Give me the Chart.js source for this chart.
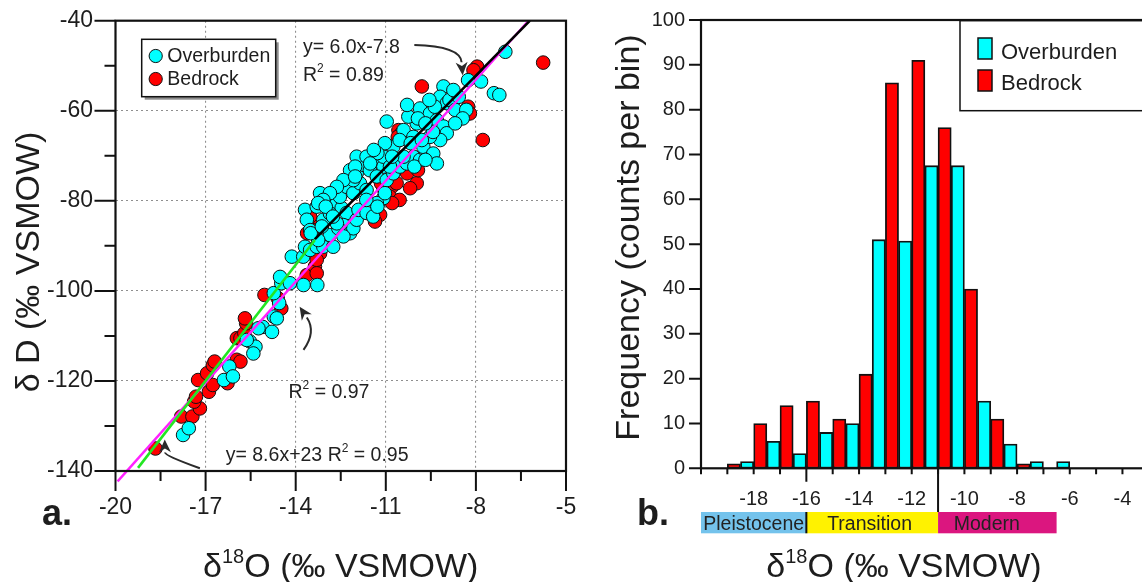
<!DOCTYPE html>
<html>
<head>
<meta charset="utf-8">
<script src="https://cdn.jsdelivr.net/npm/chart.js@4.4.1/dist/chart.umd.min.js"></script>
<style>
  html, body { margin: 0; padding: 0; background: #fff; overflow: hidden; }
  #wrap { position: relative; width: 1142px; height: 582px; overflow: hidden; background: #fff; }
  #left { position: absolute; left: 0; top: 0; }
  #right { position: absolute; left: 580px; top: 0; }
</style>
</head>
<body>
<div id="wrap">
  <canvas id="left" width="580" height="582"></canvas>
  <canvas id="right" width="610" height="582"></canvas>
</div>
<script>
const FONT = '"Liberation Sans", Arial, Helvetica, sans-serif';
const INK = '#1d1d1d';

// ---- panel a: deuterium vs oxygen-18 ----
const overburdenO = [
  -17.75, -17.56, -16.39, -16.21, -16.09, -15.53, -15.34, -15.41, -15.10, -14.79,
  -14.73, -14.55, -14.73, -14.48, -13.74, -13.28, -15.24, -15.63, -14.63, -14.52,
  -14.19, -14.13, -13.75, -13.69, -13.52, -13.30, -13.08, -12.75, -12.86, -13.25,
  -13.47, -13.69, -13.63, -13.19, -13.08, -12.97, -12.80, -12.63, -12.47, -12.30,
  -12.41, -12.58, -12.19, -12.08, -11.97, -11.91, -11.64, -11.42, -11.25, -11.08,
  -12.53, -12.30, -12.08, -11.86, -11.64, -11.97, -11.75, -11.53, -11.30, -11.08,
  -11.30, -10.97, -10.75, -10.53, -10.30, -10.08, -9.86, -9.64, -11.97, -11.64,
  -9.08, -9.19, -8.97, -9.86, -9.53, -9.30, -9.08, -8.97, -10.97, -10.41,
  -10.08, -9.97, -10.25, -9.75, -9.42, -9.19, -9.53, -9.30, -10.75, -11.08,
  -10.86, -10.41, -12.19, -12.08, -12.41, -12.63, -12.86, -13.08, -13.30, -13.52,
  -12.86, -12.63, -11.30, -12.41, -7.02, -7.83, -8.26, -7.40, -7.22, -8.88,
  -8.57, -8.75, -9.37, -8.69, -8.32, -8.44, -8.69, -9.43, -9.55, -9.93,
  -9.68, -10.29, -10.54, -10.17, -9.80, -10.05, -9.68, -11.03, -10.79, -11.28,
  -11.52, -12.02, -11.40, -12.02, -13.25, -13.00, -13.50, -13.13, -12.76, -11.65,
  -11.28, -11.03
];
const overburdenD = [
  -132.0, -130.5, -119.8, -116.8, -119.0, -111.2, -112.4, -113.9, -108.0, -109.1,
  -105.7, -102.7, -100.5, -98.3, -98.7, -98.7, -108.3, -110.9, -106.1, -96.9,
  -98.3, -92.4, -92.4, -90.2, -90.9, -90.2, -90.2, -90.2, -87.6, -88.7,
  -86.9, -82.0, -84.2, -78.3, -84.2, -81.2, -82.7, -80.5, -81.6, -82.7,
  -85.4, -86.1, -87.2, -86.1, -84.2, -82.0, -82.7, -83.5, -80.5, -79.4,
  -79.1, -76.9, -78.3, -76.1, -77.6, -73.9, -72.0, -73.2, -70.9, -72.4,
  -74.6, -75.4, -73.9, -72.4, -71.7, -70.2, -70.9, -69.4, -70.2, -70.2,
  -54.6, -56.9, -58.3, -59.5, -60.6, -62.1, -63.5, -65.0, -62.4, -64.3,
  -65.8, -62.8, -61.3, -68.0, -69.5, -66.5, -65.8, -71.7, -68.0, -70.2,
  -72.4, -70.2, -73.2, -75.4, -75.4, -76.9, -78.3, -79.8, -81.3, -86.5,
  -82.8, -85.0, -80.5, -87.9, -46.9, -53.5, -53.2, -56.1, -56.5, -57.6,
  -56.9, -55.4, -59.1, -59.8, -59.8, -61.7, -62.8, -64.7, -57.6, -61.7,
  -62.8, -58.7, -66.5, -67.2, -66.5, -72.4, -70.9, -67.2, -70.2, -69.4,
  -71.7, -72.4, -68.7, -74.6, -80.5, -81.3, -87.2, -85.7, -83.5, -79.8,
  -81.3, -78.3
];
const bedrockO = [
  -18.67, -17.81, -17.44, -17.19, -17.38, -17.32, -17.25, -16.89, -16.76, -16.95,
  -16.76, -16.70, -16.27, -15.96, -15.84, -15.96, -15.84, -15.71, -15.65, -15.69,
  -15.04, -14.48, -14.60, -13.63, -13.36, -13.30, -13.41, -13.19, -13.30, -13.47,
  -13.36, -13.52, -13.62, -10.97, -11.19, -11.47, -11.36, -11.08, -10.80, -10.64,
  -9.97, -10.19, -9.53, -9.80, -5.76, -7.96, -8.08, -7.77, -8.26, -8.20,
  -10.58, -10.48, -10.60, -10.86, -10.29, -9.93, -11.16, -10.54, -10.79
];
const bedrockD = [
  -135.0, -127.9, -127.9, -126.1, -124.6, -123.5, -119.8, -122.4, -120.9, -118.3,
  -116.5, -115.7, -120.5, -115.3, -115.7, -110.5, -110.5, -109.4, -107.2, -106.1,
  -100.9, -103.9, -101.6, -96.5, -94.6, -96.1, -90.9, -91.7, -93.1, -85.4,
  -86.5, -83.5, -87.2, -79.1, -83.1, -83.1, -84.6, -77.2, -76.9, -76.1,
  -76.1, -77.2, -70.2, -54.6, -49.3, -50.2, -51.0, -66.5, -59.1, -60.6,
  -64.3, -65.0, -65.8, -79.1, -73.9, -73.2, -76.1, -79.8, -80.5
];

// regression lines, end points as drawn in the figure
const fitAllO = [-13.36, -6.2];
const fitAllD = [-88.5, -40];
const fitLowO = [-19.25, -13.36];
const fitLowD = [-139.3, -88.7];
const fitMwlO = [-19.93, -6.25];
const fitMwlD = [-142.3, -40];

const xTicksA = [-20, -17, -14, -11, -8, -5];
const yTicksA = [-140, -120, -100, -80, -60, -40];

// ---- panel b: histogram, half-unit bins ----
const binWidth = 0.5;
const bedrockBinStart = [-19, -18, -17, -16, -15, -14, -13, -12, -11, -10, -9, -8];
const bedrockCounts = [1, 10, 14, 15, 11, 21, 86, 91, 76, 40, 11, 1];
const overburdenBinStart = [-18.5, -17.5, -16.5, -15.5, -14.5, -13.5, -12.5, -11.5, -10.5, -9.5, -8.5, -7.5, -6.5];
const overburdenCounts = [1.5, 6, 3.3, 8, 10, 51, 50.7, 67.5, 67.5, 15, 5.4, 1.5, 1.5];

const eraNames = ['Pleistocene', 'Transition', 'Modern'];
const eraEdges = [-20, -16, -11, -6.5];
const eraLabelAt = [-18, -13.6, -9.15];
const eraColors = ['#74c3ec', '#fff200', '#db167f'];

Chart.defaults.font.family = FONT;
Chart.defaults.color = INK;

function toPoints(xs, ys) {
  return xs.map((v, i) => ({ x: v, y: ys[i] }));
}

// keep the plot box where it is: labels may hang into the layout padding
function noOverhang(s) {
  s.paddingLeft = 0;
  s.paddingRight = 0;
  s.paddingTop = 0;
  s.paddingBottom = 0;
}

// text made of runs [text, size, rise, bold]
function drawRuns(ctx, runs, x, y, align) {
  const fontOf = r => (r[3] ? 'bold ' : '') + r[1] + 'px ' + FONT;
  let total = 0;
  runs.forEach(r => { ctx.font = fontOf(r); total += ctx.measureText(r[0]).width; });
  let cx = align === 'center' ? x - total / 2 : x;
  ctx.textAlign = 'left';
  ctx.textBaseline = 'alphabetic';
  runs.forEach(r => {
    ctx.font = fontOf(r);
    ctx.fillText(r[0], cx, y - (r[2] || 0));
    cx += ctx.measureText(r[0]).width;
  });
}

function curvedArrow(ctx, p0, c, tip) {
  const ang = Math.atan2(tip.y - c.y, tip.x - c.x);
  const len = 13, half = 6;
  const bx = tip.x - Math.cos(ang) * len, by = tip.y - Math.sin(ang) * len;
  ctx.beginPath();
  ctx.moveTo(p0.x, p0.y);
  ctx.quadraticCurveTo(c.x, c.y, bx, by);
  ctx.stroke();
  ctx.beginPath();
  ctx.moveTo(tip.x, tip.y);
  ctx.lineTo(bx + Math.sin(ang) * half, by - Math.cos(ang) * half);
  ctx.lineTo(tip.x - Math.cos(ang) * len * 0.7, tip.y - Math.sin(ang) * len * 0.7);
  ctx.lineTo(bx - Math.sin(ang) * half, by + Math.cos(ang) * half);
  ctx.closePath();
  ctx.fill();
}

function yTitle(ctx, text, x, y) {
  ctx.save();
  ctx.translate(x, y);
  ctx.rotate(-Math.PI / 2);
  ctx.font = '34px ' + FONT;
  ctx.textAlign = 'center';
  ctx.textBaseline = 'alphabetic';
  ctx.fillText(text, 0, 0);
  ctx.restore();
}

const panelA = {
  id: 'panelA',
  afterDatasetsDraw(chart) {
    const { ctx, chartArea: a, scales: { x, y } } = chart;
    const P = (vx, vy) => ({ x: x.getPixelForValue(vx), y: y.getPixelForValue(vy) });
    ctx.save();
    ctx.strokeStyle = '#111';
    ctx.lineWidth = 2.2;
    ctx.strokeRect(a.left, a.top, a.right - a.left, a.bottom - a.top);
    ctx.lineWidth = 2;
    ctx.beginPath();
    for (let i = 0; i <= 10; i++) {
      const px = x.getPixelForValue(-20 + 1.5 * i);
      ctx.moveTo(px, a.bottom);
      ctx.lineTo(px, a.bottom + (i % 2 === 0 ? 20 : 10));
    }
    for (let i = 0; i <= 10; i++) {
      const py = y.getPixelForValue(-140 + 10 * i);
      ctx.moveTo(a.left, py);
      ctx.lineTo(a.left - (i % 2 === 0 ? 21 : 11), py);
    }
    ctx.stroke();

    // annotations
    ctx.fillStyle = '#222';
    let p = P(-13.76, -47.2);
    drawRuns(ctx, [['y= 6.0x-7.8', 19.5]], p.x, p.y);
    p = P(-13.76, -53.4);
    drawRuns(ctx, [['R', 19.5], ['2', 12, 9], [' = 0.89', 19.5]], p.x, p.y);
    p = P(-14.24, -123.7);
    drawRuns(ctx, [['R', 19.5], ['2', 12, 9], [' = 0.97', 19.5]], p.x, p.y);
    p = P(-16.33, -137.8);
    drawRuns(ctx, [['y= 8.6x+23 R', 19.5], ['2', 12, 9], [' = 0.95', 19.5]], p.x, p.y);

    ctx.strokeStyle = '#2a2a2a';
    ctx.fillStyle = '#2a2a2a';
    ctx.lineWidth = 2;
    curvedArrow(ctx, P(-10.05, -45.4), P(-8.52, -45.65), P(-8.44, -52.1));
    curvedArrow(ctx, P(-13.74, -113.1), P(-13.31, -109.1), P(-13.87, -103.5));
    curvedArrow(ctx, P(-17.19, -139.4), P(-18.35, -136.6), P(-18.36, -133.0));

    // legend
    const lx = a.left + 26.2, ly = a.top + 18.6, lw = 134, lh = 57.4;
    ctx.fillStyle = '#8d8d8d';
    ctx.fillRect(lx + 3, ly + 3, lw, lh);
    ctx.fillStyle = '#fff';
    ctx.fillRect(lx, ly, lw, lh);
    ctx.strokeStyle = '#111';
    ctx.lineWidth = 1.5;
    ctx.strokeRect(lx, ly, lw, lh);
    const marks = [['Overburden', '#00ffff'], ['Bedrock', '#ff0000']];
    marks.forEach((m, i) => {
      ctx.beginPath();
      ctx.arc(lx + 14, ly + 16.7 + 23 * i, 6.6, 0, Math.PI * 2);
      ctx.fillStyle = m[1];
      ctx.fill();
      ctx.lineWidth = 1;
      ctx.stroke();
      ctx.fillStyle = INK;
      drawRuns(ctx, [[m[0], 19.5]], lx + 25.6, ly + 23 + 23 * i);
    });

    // titles
    ctx.fillStyle = INK;
    drawRuns(ctx, [['\u03b4', 34], ['18', 20, 14], ['O (\u2030 VSMOW)', 34]], (a.left + a.right) / 2, 577, 'center');
    yTitle(ctx, '\u03b4 D (\u2030 VSMOW)', 39, 262);
    drawRuns(ctx, [['a.', 36, 0, true]], 42, 525);
    ctx.restore();
  }
};

new Chart(document.getElementById('left'), {
  type: 'scatter',
  data: {
    datasets: [
      { label: 'fit', data: toPoints(fitAllO, fitAllD), showLine: true, borderColor: '#000000', borderWidth: 2.6, pointRadius: 0, order: 0 },
      { label: 'fit low', data: toPoints(fitLowO, fitLowD), showLine: true, borderColor: '#22e622', borderWidth: 2.6, pointRadius: 0, order: 0 },
      { label: 'mwl', data: toPoints(fitMwlO, fitMwlD), showLine: true, borderColor: '#ff22ff', borderWidth: 2.4, pointRadius: 0, order: 0, clip: false },
      { label: 'Overburden', data: toPoints(overburdenO, overburdenD), backgroundColor: '#00ffff', borderColor: '#111', borderWidth: 1, pointRadius: 6.8, order: 1 },
      { label: 'Bedrock', data: toPoints(bedrockO, bedrockD), backgroundColor: '#ff0000', borderColor: '#111', borderWidth: 1, pointRadius: 6.8, order: 2 }
    ]
  },
  options: {
    responsive: false,
    animation: false,
    devicePixelRatio: 1,
    layout: { padding: { top: 20.7, right: 14, left: 0, bottom: 0 } },
    plugins: { legend: { display: false }, tooltip: { enabled: false } },
    scales: {
      x: {
        type: 'linear', min: -20, max: -5,
        afterBuildTicks: s => { s.ticks = xTicksA.map(v => ({ value: v })); },
        afterFit: s => { s.height = 111; noOverhang(s); },
        ticks: { font: { size: 23 }, color: INK, padding: 23, maxRotation: 0, autoSkip: false },
        grid: {
          drawTicks: false, lineWidth: 1.1,
          color: c => (c.tick && (c.tick.value === -20 || c.tick.value === -5)) ? 'rgba(0,0,0,0)' : '#8f8f8f'
        },
        border: { display: false, dash: [2, 3] }
      },
      y: {
        type: 'linear', min: -140, max: -40,
        afterBuildTicks: s => { s.ticks = yTicksA.map(v => ({ value: v })); },
        afterFit: s => { s.width = 115.5; noOverhang(s); },
        ticks: { font: { size: 23 }, color: INK, padding: 22.5, autoSkip: false },
        grid: {
          drawTicks: false, lineWidth: 1.1,
          color: c => (c.tick && (c.tick.value === -140 || c.tick.value === -40)) ? 'rgba(0,0,0,0)' : '#8f8f8f'
        },
        border: { display: false, dash: [2, 3] }
      }
    }
  },
  plugins: [panelA]
});

const panelB = {
  id: 'panelB',
  afterDatasetsDraw(chart) {
    const { ctx, chartArea: a, scales: { x, y } } = chart;
    ctx.save();
    ctx.strokeStyle = '#111';
    ctx.lineWidth = 2.2;
    ctx.strokeRect(a.left, a.top, a.right - a.left, a.bottom - a.top);
    ctx.lineWidth = 2;
    ctx.beginPath();
    x.ticks.forEach(t => {
      const px = x.getPixelForValue(t.value);
      ctx.moveTo(px, a.bottom);
      ctx.lineTo(px, a.bottom + (t.value === eraEdges[1] ? 13.5 : 6));
    });
    y.ticks.forEach(t => {
      const py = y.getPixelForValue(t.value);
      ctx.moveTo(a.left, py);
      ctx.lineTo(a.left - 12, py);
    });
    ctx.stroke();

    // era bands under the axis
    const bandTop = a.bottom + 43.7, bandH = 21.3;
    eraNames.forEach((name, i) => {
      const x0 = x.getPixelForValue(eraEdges[i]), x1 = x.getPixelForValue(eraEdges[i + 1]);
      ctx.fillStyle = eraColors[i];
      ctx.fillRect(x0, bandTop, x1 - x0, bandH);
    });
    eraNames.forEach((name, i) => {
      ctx.fillStyle = '#222';
      drawRuns(ctx, [[name, 19.5]], x.getPixelForValue(eraLabelAt[i]), bandTop + 18, 'center');
    });
    ctx.beginPath();
    let ex = x.getPixelForValue(eraEdges[1]);
    ctx.moveTo(ex, bandTop); ctx.lineTo(ex, bandTop + bandH);
    ex = x.getPixelForValue(eraEdges[2]);
    ctx.moveTo(ex, a.bottom); ctx.lineTo(ex, bandTop);
    ctx.stroke();

    // legend box, runs off the right edge
    const lx = a.left + 259, ly = a.top + 0.7;
    ctx.fillStyle = '#fff';
    ctx.fillRect(lx, ly, chart.width - lx + 10, 90);
    ctx.lineWidth = 1.5;
    ctx.strokeRect(lx, ly, chart.width - lx + 10, 90);
    const keys = [['Overburden', '#00ffff'], ['Bedrock', '#ff0000']];
    keys.forEach((k, i) => {
      ctx.fillStyle = k[1];
      ctx.fillRect(lx + 18, ly + 17.3 + 32 * i, 14, 21);
      ctx.lineWidth = 1.5;
      ctx.strokeRect(lx + 18, ly + 17.3 + 32 * i, 14, 21);
      ctx.fillStyle = INK;
      drawRuns(ctx, [[k[0], 22]], lx + 41, ly + 38.3 + 31 * i);
    });

    ctx.fillStyle = INK;
    drawRuns(ctx, [['\u03b4', 34], ['18', 20, 14], ['O (\u2030 VSMOW)', 34]], 324, 577, 'center');
    yTitle(ctx, 'Frequency (counts per bin)', 59, 237.5);
    drawRuns(ctx, [['b.', 36, 0, true]], 57, 525);
    ctx.restore();
  }
};

new Chart(document.getElementById('right'), {
  type: 'bar',
  data: {
    datasets: [
      { label: 'Overburden', data: overburdenBinStart.map((s, i) => ({ x: s + binWidth / 2, y: overburdenCounts[i] })), backgroundColor: '#00ffff' },
      { label: 'Bedrock', data: bedrockBinStart.map((s, i) => ({ x: s + binWidth / 2, y: bedrockCounts[i] })), backgroundColor: '#ff0000' }
    ]
  },
  options: {
    responsive: false,
    animation: false,
    devicePixelRatio: 1,
    layout: { padding: { top: 20, right: 9.6, left: 0, bottom: 0 } },
    datasets: { bar: { grouped: false, barPercentage: 1, categoryPercentage: 1, borderWidth: 1.8, borderColor: '#111', borderSkipped: false } },
    plugins: { legend: { display: false }, tooltip: { enabled: false } },
    scales: {
      x: {
        type: 'linear', min: -20, max: -1.8, offset: false,
        afterBuildTicks: s => { s.ticks = s.ticks.filter(t => Number.isInteger(t.value)); },
        afterFit: s => { s.height = 113.7; noOverhang(s); },
        ticks: {
          stepSize: 1, font: { size: 20 }, color: INK, padding: 18.7, maxRotation: 0, autoSkip: false,
          callback: v => (v % 2 === 0 && v > -20 && v <= -4) ? String(v) : ''
        },
        grid: { display: false, drawTicks: false, offset: false },
        border: { display: false }
      },
      y: {
        type: 'linear', min: 0, max: 100,
        afterFit: s => { s.width = 121; noOverhang(s); },
        ticks: { stepSize: 10, font: { size: 20 }, color: INK, padding: 16 },
        grid: { display: false, drawTicks: false },
        border: { display: false }
      }
    }
  },
  plugins: [panelB]
});
</script>
</body>
</html>
